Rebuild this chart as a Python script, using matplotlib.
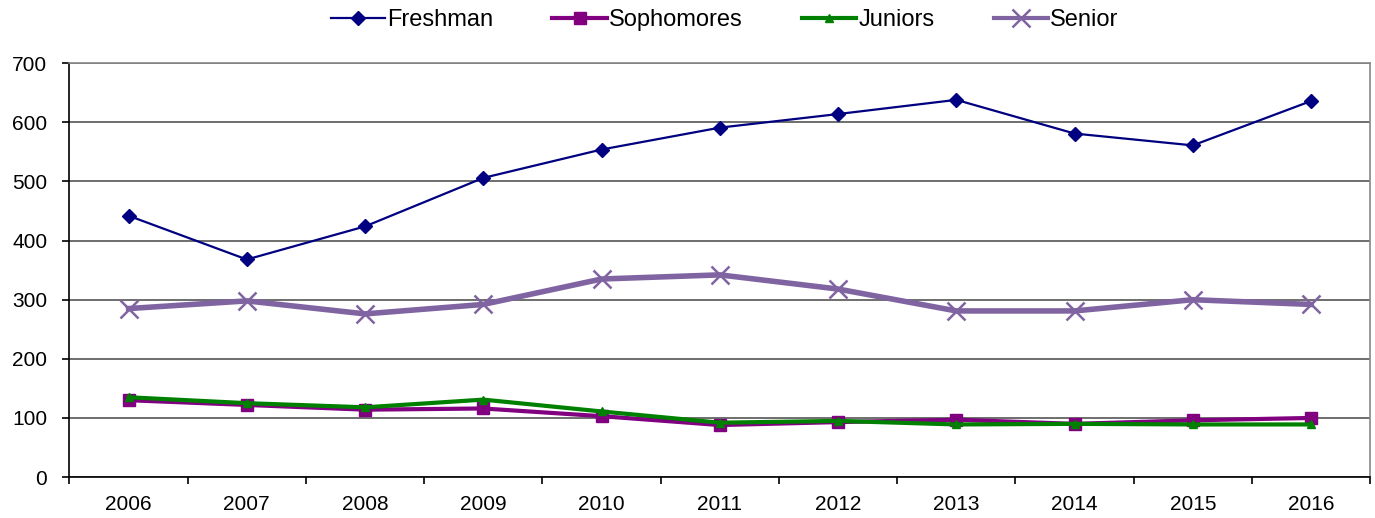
import matplotlib
matplotlib.use("Agg")
import matplotlib.pyplot as plt
import numpy as np

plt.rcParams['font.family'] = ['Liberation Sans', 'DejaVu Sans']

years = ["2006", "2007", "2008", "2009", "2010", "2011",
         "2012", "2013", "2014", "2015", "2016"]
freshman = [442, 368, 424, 506, 554, 591, 614, 638, 581, 561, 636]
sophomores = [130, 122, 114, 116, 103, 88, 93, 97, 90, 96, 100]
juniors = [135, 125, 118, 131, 111, 92, 95, 89, 90, 89, 89]
senior = [285, 298, 276, 292, 335, 342, 318, 281, 281, 300, 292]

x = np.arange(len(years))

fig = plt.figure(figsize=(13.75, 5.18), dpi=100)
ax = fig.add_axes([0.0505, 0.079, 0.946, 0.799])

ax.plot(x, freshman, color='#000080', lw=1.6, marker='D', markersize=7,
        label='Freshman', zorder=5)
ax.plot(x, sophomores, color='#800080', lw=3, marker='s', markersize=8,
        label='Sophomores', zorder=3)
ax.plot(x, juniors, color='#008000', lw=3, marker='^', markersize=6,
        label='Juniors', zorder=4)
ax.plot(x, senior, color='#8064A2', lw=4, marker='x', markersize=13,
        markeredgewidth=1.8, label='Senior', zorder=2)

ax.set_xlim(-0.5, len(years) - 0.5)
ax.set_ylim(0, 700)
ax.set_yticks(np.arange(0, 701, 100))
ax.yaxis.grid(True, color='#555555', lw=1.2)
ax.set_axisbelow(True)

# category labels sit between boundary tick marks
ax.set_xticks(np.arange(-0.5, len(years), 1))
ax.set_xticklabels([])
ax.set_xticks(x, minor=True)
ax.set_xticklabels(years, minor=True)
ax.tick_params(axis='x', which='major', direction='out', length=5, width=1.2)
ax.tick_params(axis='x', which='minor', length=0, pad=13, labelsize=15)
ax.tick_params(axis='y', direction='out', length=5, width=1.2, labelsize=15, pad=11)

ax.spines['left'].set_color('black')
ax.spines['bottom'].set_color('black')
ax.spines['top'].set_color('#888888')
ax.spines['right'].set_color('#888888')
for s in ax.spines.values():
    s.set_linewidth(1.2)

leg = fig.legend(loc='center', bbox_to_anchor=(0.527, 0.961), ncol=4,
                 frameon=False, fontsize=17, handlelength=2.3,
                 columnspacing=2.5, handletextpad=0.1, borderpad=0)
for h in leg.get_lines():
    h.set_linewidth(min(h.get_linewidth(), 3))

fig.savefig("out.png", dpi=100)
